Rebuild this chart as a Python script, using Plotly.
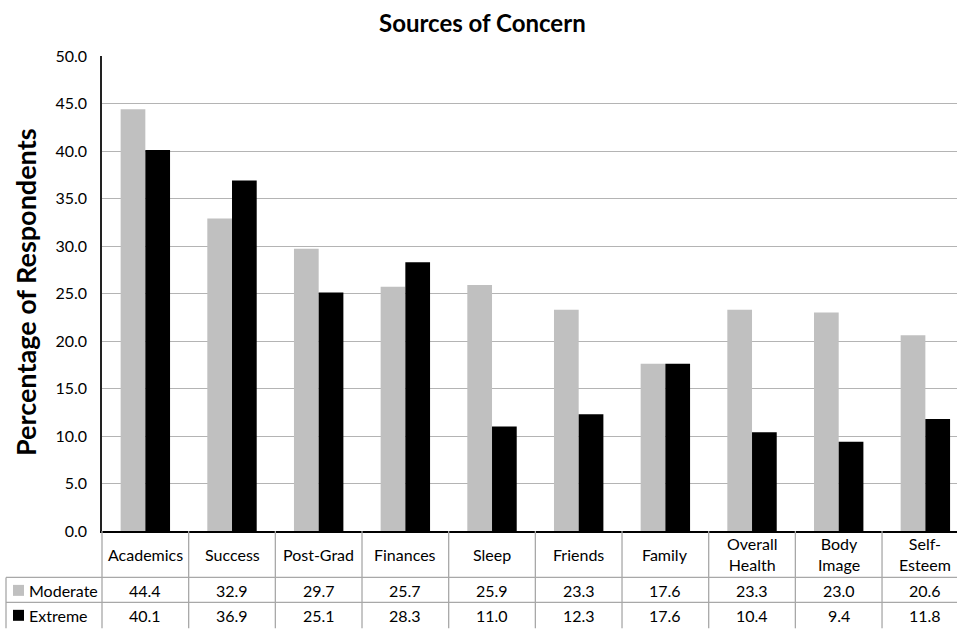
import plotly.graph_objects as go

categories = ["Academics", "Success", "Post-Grad", "Finances", "Sleep",
              "Friends", "Family", "Overall Health", "Body Image", "Self-Esteem"]
cat_labels = ["Academics", "Success", "Post-Grad", "Finances", "Sleep",
              "Friends", "Family", "Overall<br>Health", "Body<br>Image", "Self-<br>Esteem"]
moderate = [44.4, 32.9, 29.7, 25.7, 25.9, 23.3, 17.6, 23.3, 23.0, 20.6]
extreme = [40.1, 36.9, 25.1, 28.3, 11.0, 12.3, 17.6, 10.4, 9.4, 11.8]
series_names = ["Moderate", "Extreme"]
series_colors = ["#c0c0c0", "#000000"]
y_ticks = [0, 5, 10, 15, 20, 25, 30, 35, 40, 45, 50]

FONT = "Lato"
W, H = 957, 629
ML, MR, MT, MB = 102, 0, 55.5, 97.5
PW = W - ML - MR
PH = H - MT - MB
XR = [-0.5, -0.5 + PW / 86.67]


def px_x(px):
    return (px - ML) / PW


def px_y(py):
    return (H - MB - py) / PH


fig = go.Figure()
for name, vals, col in zip(series_names, [moderate, extreme], series_colors):
    fig.add_trace(go.Bar(x=list(range(len(categories))), y=vals, name=name,
                         marker=dict(color=col, line=dict(width=0)),
                         hoverinfo="y+name"))

shapes = []
ann = []
grid = "#b4b4b4"
tline = "#a8a8a8"
for i in range(1, len(categories)):
    shapes.append(dict(type="line", xref="x", yref="paper", x0=i - 0.5, x1=i - 0.5,
                       y0=0, y1=px_y(H), line=dict(color=tline, width=1.3)))
shapes.append(dict(type="line", xref="paper", yref="paper", x0=0, x1=0,
                   y0=0, y1=px_y(H), line=dict(color=tline, width=1.3)))
for py in [578, 603]:
    shapes.append(dict(type="line", xref="paper", yref="paper", x0=px_x(6), x1=1,
                       y0=px_y(py), y1=px_y(py), line=dict(color=tline, width=1.3)))
shapes.append(dict(type="line", xref="paper", yref="paper", x0=px_x(6), x1=px_x(6),
                   y0=px_y(578), y1=px_y(H), line=dict(color=tline, width=1.3)))

row_centers = [591, 616]
for name, vals, col, pyc in zip(series_names, [moderate, extreme], series_colors, row_centers):
    shapes.append(dict(type="rect", xref="paper", yref="paper",
                       x0=px_x(13), x1=px_x(24), y0=px_y(pyc + 5.5), y1=px_y(pyc - 5.5),
                       fillcolor=col, line=dict(width=0)))
    ann.append(dict(text=name, xref="paper", yref="paper", x=px_x(27), y=px_y(pyc),
                    xanchor="left", yanchor="middle", showarrow=False,
                    font=dict(family=FONT, size=16, color="#000")))
    for i, v in enumerate(vals):
        ann.append(dict(text=f"{v:.1f}", xref="x", yref="paper", x=i, y=px_y(pyc),
                        xanchor="center", yanchor="middle", showarrow=False,
                        font=dict(family=FONT, size=16, color="#000")))

for i, lab in enumerate(cat_labels):
    ann.append(dict(text=lab, xref="x", yref="paper", x=i, y=px_y(555),
                    xanchor="center", yanchor="middle", showarrow=False,
                    font=dict(family=FONT, size=16, color="#000")))

ann.append(dict(text="<b>Sources of Concern</b>", xref="paper", yref="paper",
                x=px_x(482), y=px_y(22), xanchor="center", yanchor="middle",
                showarrow=False, font=dict(family=FONT, size=24, color="#000")))
ann.append(dict(text="<b>Percentage of Respondents</b>", xref="paper", yref="paper",
                x=px_x(25), y=px_y(292), xanchor="center", yanchor="middle",
                textangle=-90, showarrow=False,
                font=dict(family=FONT, size=27, color="#000")))

fig.update_layout(
    width=W, height=H,
    margin=dict(l=ML, r=MR, t=MT, b=MB, pad=0),
    paper_bgcolor="white", plot_bgcolor="white",
    barmode="group", bargap=0.43, bargroupgap=0,
    showlegend=False,
    shapes=shapes, annotations=ann,
    xaxis=dict(range=XR, showticklabels=False, ticks="", showgrid=False,
               zeroline=False, showline=True, linecolor="#000", linewidth=2,
               fixedrange=True),
    yaxis=dict(range=[0, 50], tickvals=y_ticks, tickformat=".1f",
               showgrid=True, gridcolor=grid, gridwidth=1.3,
               zeroline=False, showline=True, linecolor="#222", linewidth=1.5,
               ticks="", ticklabelstandoff=10,
               tickfont=dict(family=FONT, size=16, color="#000")),
)

fig.write_html("out.html", config={"displayModeBar": False},
               post_script="document.body.style.margin='0';document.body.style.overflow='hidden';")
